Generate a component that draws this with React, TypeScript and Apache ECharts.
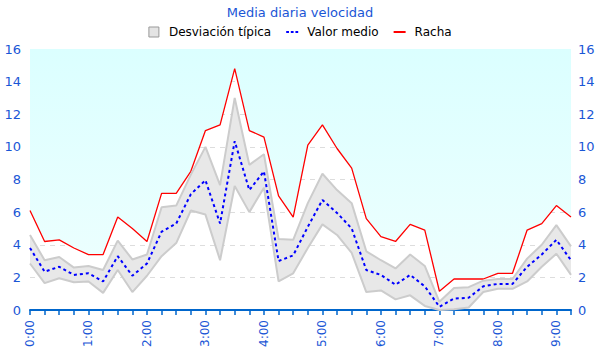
import React, { useEffect, useRef } from "react";
import * as echarts from "echarts";

const times: string[] = [];
for (let h = 0; h <= 9; h++) {
  for (const m of ["00", "15", "30", "45"]) {
    if (h === 9 && (m === "30" || m === "45")) continue;
    times.push(`${h}:${m}`);
  }
}

const racha = [6.1, 4.2, 4.3, 3.8, 3.4, 3.4, 5.7, 5.0, 4.2, 7.15, 7.15, 8.5, 11.0, 11.35, 14.8, 11.0, 10.6, 7.0, 5.7, 10.1, 11.35, 9.9, 8.7, 5.6, 4.5, 4.2, 5.25, 4.9, 1.15, 1.9, 1.9, 1.9, 2.25, 2.25, 4.9, 5.3, 6.4, 5.7];
const media = [3.8, 2.35, 2.65, 2.15, 2.25, 1.75, 3.3, 2.1, 2.85, 4.8, 5.3, 7.1, 7.95, 5.3, 10.35, 7.35, 8.5, 3.0, 3.35, 5.1, 6.75, 5.95, 5.0, 2.45, 2.15, 1.55, 2.15, 1.45, 0.2, 0.7, 0.75, 1.45, 1.6, 1.6, 2.65, 3.4, 4.3, 3.05];
const superior = [4.6, 3.05, 3.25, 2.6, 2.7, 2.45, 4.25, 3.1, 3.4, 6.3, 6.4, 8.3, 10.0, 7.65, 13.0, 8.9, 9.55, 4.35, 4.3, 6.55, 8.35, 7.35, 6.55, 3.6, 3.05, 2.55, 3.4, 2.7, 0.5, 1.35, 1.4, 1.8, 1.9, 1.9, 3.15, 4.0, 5.2, 3.9];
const inferior = [2.85, 1.65, 1.95, 1.7, 1.75, 1.05, 2.45, 1.1, 2.1, 3.3, 4.1, 6.1, 5.85, 3.05, 7.6, 6.0, 7.5, 1.75, 2.25, 3.8, 5.25, 4.6, 3.5, 1.1, 1.2, 0.65, 0.9, 0.25, 0.0, 0.05, 0.15, 1.1, 1.3, 1.3, 1.75, 2.65, 3.45, 2.15];

const bandDiff = superior.map((v, i) => +(v - inferior[i]).toFixed(3));

const BLUE_TXT = "#1a56d6";

export default function App() {
  const ref = useRef<HTMLDivElement>(null);
  useEffect(() => {
    if (!ref.current) return;
    const chart = echarts.init(ref.current, undefined, { renderer: "svg" });
    const yAxisCommon = {
      type: "value" as const,
      min: 0,
      max: 16,
      interval: 2,
      axisLine: { show: false },
      axisTick: { show: false },
      axisLabel: { color: BLUE_TXT, fontSize: 13, fontFamily: "DejaVu Sans" },
    };
    chart.setOption({
      animation: false,
      backgroundColor: "#ffffff",
      title: {
        text: "Media diaria velocidad",
        left: "center",
        top: 1,
        textStyle: { color: BLUE_TXT, fontSize: 13, fontWeight: "normal", fontFamily: "DejaVu Sans" },
      },
      legend: {
        top: 21,
        left: "center",
        itemGap: 15,
        itemWidth: 12,
        itemHeight: 10,
        symbolKeepAspect: true,
        textStyle: { color: "#000", fontSize: 12, fontFamily: "DejaVu Sans", padding: [0, 0, 0, 4] },
        data: [
          {
            name: "Desviación típica",
            icon: "path://M0,0h10v10h-10z",
            itemStyle: { color: "#e4e4e4", borderColor: "#999", borderWidth: 1 },
          },
          {
            name: "Valor medio",
            icon: "path://M0,0h3v2h-3z M5,0h3v2h-3z M10,0h3v2h-3z",
            itemStyle: { color: "#0000ff", borderWidth: 0 },
          },
          {
            name: "Racha",
            icon: "path://M0,0h12v2h-12z",
            itemStyle: { color: "#ff0000", borderWidth: 0 },
          },
        ],
      },
      grid: { left: 30, right: 29, top: 49, bottom: 50 },
      xAxis: {
        type: "category",
        data: times,
        boundaryGap: false,
        axisLine: { lineStyle: { color: "#0066cc", width: 2 } },
        axisTick: { interval: 0, length: 5, lineStyle: { color: "#0066cc", width: 1.5 } },
        axisLabel: {
          interval: 3,
          rotate: 90,
          color: BLUE_TXT,
          fontSize: 12,
          margin: 10,
          fontFamily: "DejaVu Sans",
        },
        splitLine: { show: false },
      },
      yAxis: [
        {
          ...yAxisCommon,
          position: "left",
          axisLabel: { ...yAxisCommon.axisLabel, margin: 9 },
          splitLine: { show: true, lineStyle: { color: "#dddddd", type: [5, 5], width: 1 } },
        },
        {
          ...yAxisCommon,
          position: "right",
          axisLabel: { ...yAxisCommon.axisLabel, margin: 7 },
          splitLine: { show: false },
        },
      ],
      series: [
        {
          name: "Racha",
          type: "line",
          data: racha,
          symbol: "none",
          z: 1,
          lineStyle: { color: "#ff0000", width: 1.3 },
          itemStyle: { color: "#ff0000" },
          areaStyle: {
            origin: "end",
            opacity: 1,
            color: new echarts.graphic.LinearGradient(0, 0, 0, 1, [
              { offset: 0, color: "#dbffff" },
              { offset: 1, color: "#eefffe" },
            ]),
          },
        },
        {
          name: "base",
          type: "line",
          stack: "band",
          data: inferior,
          symbol: "none",
          z: 2,
          lineStyle: { opacity: 0 },
          silent: true,
        },
        {
          name: "Desviación típica",
          type: "line",
          stack: "band",
          data: bandDiff,
          symbol: "none",
          z: 2,
          lineStyle: { color: "#cccccc", width: 2 },
          itemStyle: { color: "#e4e4e4", borderColor: "#999" },
          areaStyle: { color: "#e8e8e8", opacity: 1 },
        },
        {
          name: "lower",
          type: "line",
          data: inferior,
          symbol: "none",
          z: 3,
          lineStyle: { color: "#cccccc", width: 2 },
          silent: true,
        },
        {
          name: "Valor medio",
          type: "line",
          data: media,
          symbol: "none",
          z: 4,
          lineStyle: { color: "#0000ff", width: 2, type: [3, 3] },
          itemStyle: { color: "#0000ff" },
        },
      ],
    });
    return () => chart.dispose();
  }, []);
  return <div ref={ref} style={{ width: 600, height: 360, position: "absolute", left: 0, top: 0 }} />;
}
